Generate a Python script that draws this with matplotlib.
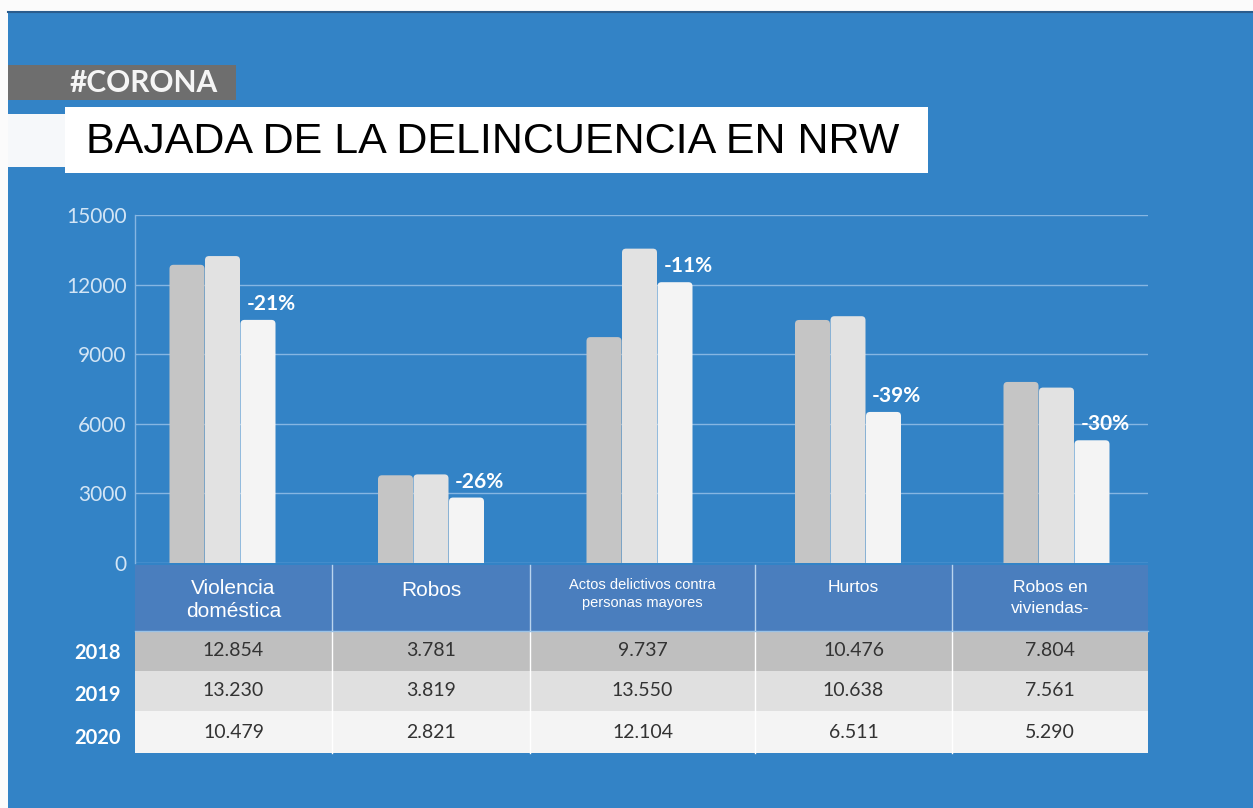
import matplotlib

matplotlib.use("Agg")
import matplotlib.pyplot as plt
from matplotlib.patches import Rectangle, FancyBboxPatch

categories = ["Violencia\ndoméstica", "Robos", "Actos delictivos contra\npersonas mayores", "Hurtos", "Robos en\nviviendas-"]
years = ["2018", "2019", "2020"]
values_2018 = [12854, 3781, 9737, 10476, 7804]
values_2019 = [13230, 3819, 13550, 10638, 7561]
values_2020 = [10479, 2821, 12104, 6511, 5290]
table_2018 = ["12.854", "3.781", "9.737", "10.476", "7.804"]
table_2019 = ["13.230", "3.819", "13.550", "10.638", "7.561"]
table_2020 = ["10.479", "2.821", "12.104", "6.511", "5.290"]
yticks = [0, 3000, 6000, 9000, 12000, 15000]

BLUE = "#3383c6"
HEADER = "#4a7ebe"
GRID = "#86b6e2"
TICK = "#d3e5f5"
BAR_COLORS = ["#c5c5c5", "#e2e2e2", "#f4f4f4"]
ROW_COLORS = ["#bfbfbf", "#e0e0e0", "#f4f4f4"]
header_sizes = [15, 15, 10.5, 12.5, 12.5]
header_y = [600, 590, 594, 588, 598]
header_spacing = [1.3, 1.0, 1.35, 1.0, 1.45]

W, H = 1253, 808
fig = plt.figure(figsize=(W / 100, H / 100), dpi=100)
fig.patch.set_facecolor("#fbfbfb")

# background layer in pixel coordinates
bg = fig.add_axes([0, 0, 1, 1])
bg.set_xlim(0, W)
bg.set_ylim(H, 0)
bg.axis("off")
bg.add_patch(Rectangle((8, 11), W - 8, H - 11, facecolor=BLUE, edgecolor="none"))
bg.plot([8, W], [11.5, 11.5], color="#2b5c8c", lw=1.5)
bg.add_patch(Rectangle((8, 65), 228, 35, facecolor="#6e6e6e", edgecolor="none"))
bg.text(70, 83, "#CORONA", color="#f5f5f5", fontsize=21.5, fontweight="bold",
        family="Lato", va="center", ha="left")
bg.add_patch(Rectangle((8, 114), 60, 53, facecolor="#f6f8fa", edgecolor="none"))
bg.add_patch(Rectangle((65, 107), 863, 66, facecolor="white", edgecolor="none"))
bg.text(86, 142, "BAJADA DE LA DELINCUENCIA EN NRW", color="black", fontsize=31,
        family="Liberation Sans", va="center", ha="left")

# table
col_edges = [135, 332, 530, 755, 952, 1148]
header_top, header_bot = 565, 631
row_edges = [631, 671, 711, 753]
bg.add_patch(Rectangle((col_edges[0], header_top), col_edges[-1] - col_edges[0],
                       header_bot - header_top, facecolor=HEADER, edgecolor="none"))
for r, color in enumerate(ROW_COLORS):
  bg.add_patch(Rectangle((col_edges[0], row_edges[r]), col_edges[-1] - col_edges[0],
                         row_edges[r + 1] - row_edges[r], facecolor=color, edgecolor="none"))
for x in col_edges[1:-1]:
  bg.plot([x, x], [header_top, header_bot], color="#b9d4ee", lw=1)
  bg.plot([x, x], [header_bot, row_edges[-1]], color="white", lw=1)
bg.plot([col_edges[0], col_edges[-1]], [header_bot, header_bot], color="#9cc3e6", lw=1)

for i, label in enumerate(categories):
  cx = (col_edges[i] + col_edges[i + 1]) / 2
  bg.text(cx, header_y[i], label, color="white", fontsize=header_sizes[i],
          family="Liberation Sans", ha="center", va="center",
          linespacing=header_spacing[i])

rows = [table_2018, table_2019, table_2020]
for r, row in enumerate(rows):
  cy = (row_edges[r] + row_edges[r + 1]) / 2
  for i, txt in enumerate(row):
    cx = (col_edges[i] + col_edges[i + 1]) / 2
    bg.text(cx, cy, txt, color="#333333", fontsize=14, family="Lato",
            ha="center", va="center")
  bg.text(121, cy + 2 + 2 * r, years[r], color="white", fontsize=14.5, fontweight="bold",
          family="Lato", ha="right", va="center")

# bar chart
left, right, top, bottom = 135, 1148, 215, 563
ax = fig.add_axes([left / W, (H - bottom) / H, (right - left) / W, (bottom - top) / H])
ax.set_facecolor("none")
ax.set_xlim(0, right - left)
ax.set_ylim(0, 15000)
for s in ["top", "right", "bottom"]:
  ax.spines[s].set_visible(False)
ax.spines["left"].set_color(GRID)
ax.spines["left"].set_linewidth(1)
ax.set_xticks([])
ax.set_yticks(yticks)
ax.set_yticklabels([str(t) for t in yticks], color=TICK, fontsize=15, family="Lato")
ax.tick_params(axis="y", length=0, pad=6)
ax.yaxis.grid(True, color=GRID, lw=1)
ax.set_axisbelow(True)

group_x = [87.5 + 208.5 * i for i in range(len(categories))]
offsets = [-35.5, 0, 35.5]
bar_w = 35
y_per_px = 15000 / (bottom - top)
series = [values_2018, values_2019, values_2020]
for k, vals in enumerate(series):
  xs = [g + offsets[k] for g in group_x]
  bars = ax.bar(xs, vals, width=bar_w, color=BAR_COLORS[k], zorder=3)
  for b in bars:
    b.set_visible(False)
    rounded = FancyBboxPatch((b.get_x(), -600), b.get_width(), b.get_height() + 600,
                             boxstyle="round,pad=0,rounding_size=4",
                             mutation_aspect=y_per_px, facecolor=BAR_COLORS[k],
                             edgecolor="none", zorder=3)
    ax.add_patch(rounded)

for i, g in enumerate(group_x):
  change = round((values_2020[i] - values_2019[i]) / values_2019[i] * 100)
  ax.text(g + offsets[2] - bar_w / 2 + 6, values_2020[i] + 16 * y_per_px, f"{change}%",
          color="white", fontsize=15, fontweight="bold", family="Lato",
          ha="left", va="center", zorder=4)

fig.savefig("out.png", dpi=100)
